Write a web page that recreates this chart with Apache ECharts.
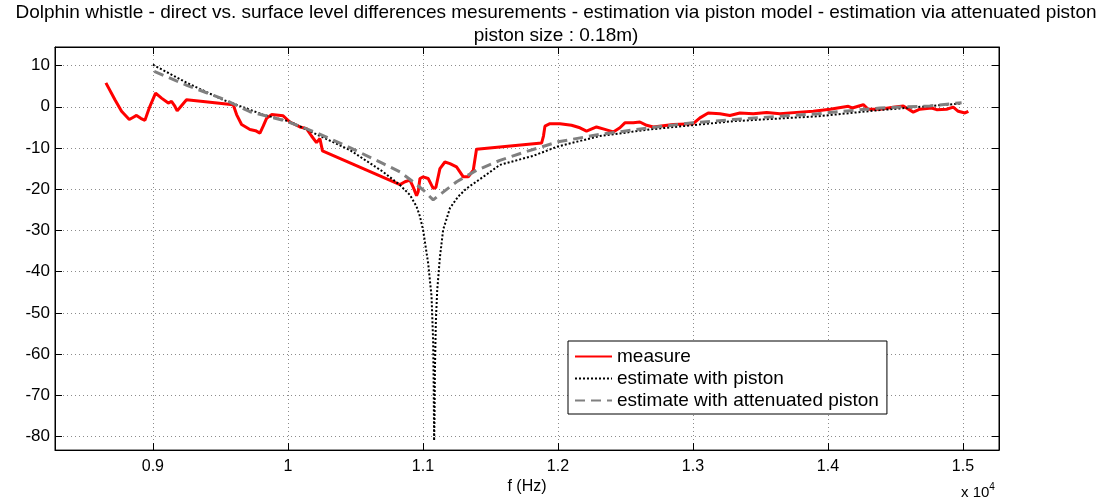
<!DOCTYPE html>
<html>
<head>
<meta charset="utf-8">
<script src="https://cdn.jsdelivr.net/npm/echarts@6/dist/echarts.min.js"></script>
<style>
html,body{margin:0;padding:0;background:#fff;}
#main{width:1112px;height:500px;}
</style>
</head>
<body>
<div id="main"></div>
<script>
var titleText = 'Dolphin whistle - direct vs. surface level differences mesurements - estimation via piston model - estimation via attenuated piston\npiston size : 0.18m)';
var seriesNames = ['measure', 'estimate with piston', 'estimate with attenuated piston'];
var xTickValues = [9000, 10000, 11000, 12000, 13000, 14000, 15000];
var yTickValues = [10, 0, -10, -20, -30, -40, -50, -60, -70, -80];

var measureF = [8652, 8719, 8768, 8825, 8852, 8879, 8910, 8941, 8960, 8978, 9020, 9064, 9114, 9138, 9160, 9180, 9210, 9249, 9372, 9595, 9620, 9657, 9719, 9760, 9793, 9817, 9842, 9879, 9965, 10015, 10089, 10138, 10175, 10212, 10237, 10256, 10830, 10867, 10904, 10928, 10953, 10965, 10978, 11002, 11039, 11076, 11096, 11126, 11163, 11200, 11249, 11299, 11336, 11373, 11397, 11879, 11893, 11904, 11941, 12015, 12101, 12163, 12212, 12286, 12348, 12410, 12459, 12496, 12558, 12607, 12657, 12706, 12854, 13002, 13052, 13113, 13200, 13274, 13348, 13447, 13546, 13644, 13793, 13891, 14015, 14151, 14180, 14262, 14299, 14385, 14484, 14558, 14632, 14681, 14768, 14805, 14879, 14928, 14965, 15015, 15040];
var measureV = [5.8, 1.7, -1.1, -3.1, -2.6, -2.1, -2.8, -3.3, -1.5, 0.1, 3.3, 2.1, 0.9, 1.3, 0.3, -1.0, 0.2, 1.7, 1.3, 0.5, -1.9, -4.3, -5.5, -5.8, -6.4, -4.7, -2.8, -1.9, -2.2, -3.7, -4.9, -5.3, -7.1, -8.7, -7.7, -10.7, -18.9, -18.2, -17.8, -19.5, -21.6, -20.6, -17.4, -17.0, -17.4, -19.8, -19.6, -15.0, -13.4, -13.8, -14.6, -17.0, -17.0, -15.4, -10.3, -8.8, -7.1, -4.7, -4.1, -4.1, -4.5, -5.1, -5.9, -4.9, -5.5, -6.1, -5.1, -3.9, -3.9, -3.7, -4.5, -4.9, -4.3, -4.1, -2.7, -1.5, -1.7, -2.1, -1.5, -1.7, -1.4, -1.7, -1.3, -1.1, -0.6, 0.1, -0.3, 0.5, -0.6, -0.6, -0.1, 0.2, -1.3, -0.6, -0.3, -0.7, -0.6, -0.1, -1.1, -1.5, -1.1];

var pistonF = [9000, 9252, 9519, 9815, 10015, 10213, 10459, 10706, 10830, 10904, 10953, 10978, 11002, 11039, 11064, 11076, 11080, 11083, 11086, 11089, 11096, 11106, 11126, 11150, 11187, 11200, 11261, 11324, 11447, 11570, 11817, 12002, 12311, 12681, 12988, 13298, 13928, 14385, 14990];
var pistonV = [10.2, 5.8, 1.7, -1.9, -3.6, -6.7, -10.5, -15.8, -19.0, -21.4, -24.2, -26.6, -30.0, -38.0, -46.0, -57.0, -68.0, -81.0, -76.0, -64.0, -52.0, -44.5, -36.5, -29.8, -26.0, -24.6, -21.8, -19.8, -17.0, -14.1, -11.9, -9.6, -7.1, -5.5, -4.5, -3.5, -2.3, -0.8, 0.8];

var attenF = [9010, 9252, 9519, 9719, 9990, 10213, 10459, 10706, 10830, 10928, 11002, 11076, 11138, 11250, 11398, 11570, 11743, 12002, 12311, 12681, 12998, 13298, 13644, 13928, 14015, 14385, 14755, 14990];
var attenV = [8.6, 5.2, 1.9, -1.2, -3.5, -6.3, -9.9, -13.8, -15.8, -18.2, -20.2, -22.6, -21.0, -18.2, -15.4, -13.0, -11.1, -8.5, -6.7, -5.1, -3.9, -3.1, -2.3, -1.7, -1.4, -0.3, 0.2, 1.0];

function pairs(fs, vs) { return fs.map(function (f, i) { return [f, vs[i]]; }); }

var FONT = '"Liberation Sans", Arial, sans-serif';
var chart = echarts.init(document.getElementById('main'), null, { renderer: 'canvas' });

var gridLine = { show: true, lineStyle: { color: '#8c8c8c', type: [1, 3], width: 1 } };
var xCommon = {
  type: 'value', min: 8275, max: 15267, splitNumber: 7, minInterval: 1000, maxInterval: 1000
};
var yCommon = {
  type: 'value', min: -83.3, max: 14.5, splitNumber: 10, minInterval: 10, maxInterval: 10
};

chart.setOption({
  animation: false,
  backgroundColor: '#ffffff',
  title: {
    text: titleText,
    left: 'center',
    top: -4,
    textStyle: { fontFamily: FONT, fontSize: 19, fontWeight: 'normal', color: '#000', lineHeight: 23 }
  },
  legend: {
    data: seriesNames,
    orient: 'vertical',
    left: 568,
    top: 341,
    padding: [6, 8, 4, 6],
    itemWidth: 37,
    itemHeight: 14,
    itemGap: 3,
    backgroundColor: '#fff',
    borderColor: '#000',
    borderWidth: 1,
    borderRadius: 0,
    itemStyle: { opacity: 0 },
    textStyle: { fontFamily: FONT, fontSize: 19, color: '#000', lineHeight: 19 }
  },
  grid: { left: 55, right: 113, top: 47, bottom: 43, show: true, borderColor: '#000', borderWidth: 1, backgroundColor: 'transparent' },
  xAxis: [
    Object.assign({}, xCommon, {
      position: 'bottom',
      name: 'f (Hz)', nameLocation: 'middle', nameGap: 28,
      nameTextStyle: { fontFamily: FONT, fontSize: 16, color: '#000' },
      axisLine: { show: true, onZero: false, lineStyle: { color: '#000', width: 1 } },
      axisTick: { show: true, inside: true, length: 7, lineStyle: { color: '#000' } },
      axisLabel: {
        show: true, margin: 8, fontFamily: FONT, fontSize: 16, color: '#000',
        showMinLabel: false, showMaxLabel: false,
        formatter: function (v) { return (xTickValues.indexOf(Math.round(v)) >= 0) ? String(+(v / 10000).toFixed(2)) : ''; }
      },
      splitLine: gridLine
    }),
    Object.assign({}, xCommon, {
      position: 'top',
      axisLine: { show: true, onZero: false, lineStyle: { color: '#000', width: 1 } },
      axisTick: { show: true, inside: true, length: 7, lineStyle: { color: '#000' } },
      axisLabel: { show: false },
      splitLine: { show: false }
    })
  ],
  yAxis: [
    Object.assign({}, yCommon, {
      position: 'left',
      axisLine: { show: true, onZero: false, lineStyle: { color: '#000', width: 1 } },
      axisTick: { show: true, inside: true, length: 7, lineStyle: { color: '#000' } },
      axisLabel: {
        show: true, margin: 5, fontFamily: FONT, fontSize: 17, color: '#000',
        showMinLabel: false, showMaxLabel: false,
        formatter: function (v) { return (yTickValues.indexOf(Math.round(v)) >= 0 && Math.abs(v - Math.round(v)) < 1e-6) ? String(Math.round(v)) : ''; }
      },
      splitLine: gridLine
    }),
    Object.assign({}, yCommon, {
      position: 'right',
      axisLine: { show: true, onZero: false, lineStyle: { color: '#000', width: 1 } },
      axisTick: { show: true, inside: true, length: 7, lineStyle: { color: '#000' } },
      axisLabel: { show: false },
      splitLine: { show: false }
    })
  ],
  series: [
    {
      name: seriesNames[0], type: 'line', xAxisIndex: 0, yAxisIndex: 0,
      data: pairs(measureF, measureV),
      showSymbol: false, symbol: 'none', smooth: false,
      lineStyle: { color: '#ff0000', width: 3 }, itemStyle: { color: '#ff0000' }, z: 2
    },
    {
      name: seriesNames[1], type: 'line', xAxisIndex: 0, yAxisIndex: 0,
      data: pairs(pistonF, pistonV),
      showSymbol: false, symbol: 'none', smooth: false,
      lineStyle: { color: '#000000', width: 2, type: [2, 2] }, itemStyle: { color: '#000000' }, z: 3
    },
    {
      name: seriesNames[2], type: 'line', xAxisIndex: 0, yAxisIndex: 0,
      data: pairs(attenF, attenV),
      showSymbol: false, symbol: 'none', smooth: false,
      lineStyle: { color: '#808080', width: 3, type: [10, 6] }, itemStyle: { color: '#808080' }, z: 4
    }
  ],
  graphic: [
    {
      type: 'text', left: 961, top: 482,
      style: {
        text: '{a|x 10}{b|4}',
        rich: {
          a: { fontFamily: FONT, fontSize: 15, fill: '#000', verticalAlign: 'bottom', lineHeight: 18 },
          b: { fontFamily: FONT, fontSize: 10, fill: '#000', verticalAlign: 'top', lineHeight: 18 }
        }
      }
    }
  ]
});
</script>
</body>
</html>
